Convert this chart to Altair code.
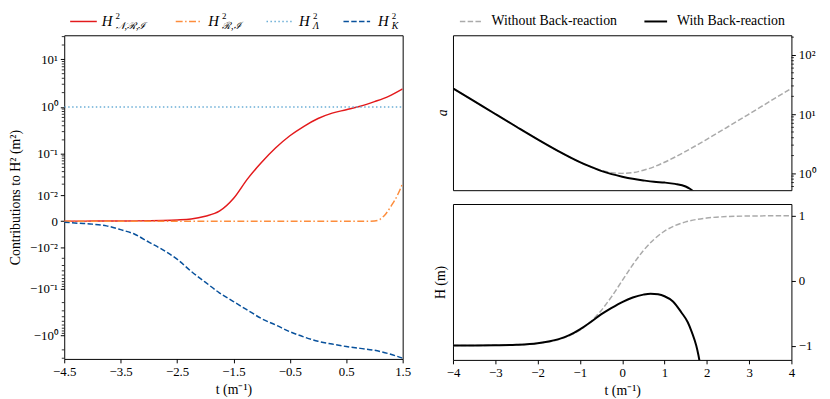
import altair as alt
import pandas as pd

# ---------------- data ----------------
t_left = [-4.5, -4.25, -4.0, -3.75, -3.5, -3.25, -3.0, -2.75, -2.5, -2.25, -2.0, -1.75,
          -1.5, -1.25, -1.0, -0.75, -0.5, -0.25, 0.0, 0.25, 0.5, 0.75, 1.0, 1.25, 1.5]
h2_nri = [2e-5, 2e-5, 3e-5, 4e-5, 5e-5, 7e-5, 1e-4, 1.5e-4, 2.5e-4, 4.5e-4, 1.1e-3, 2.5e-3,
          8e-3, 0.027, 0.065, 0.135, 0.245, 0.39, 0.57, 0.74, 0.87, 1.03, 1.29, 1.67, 2.4]
h2_k = [-0.0002, -0.0004, -0.0006, -0.001, -0.002, -0.0035, -0.007, -0.012, -0.021, -0.041,
        -0.072, -0.123, -0.19, -0.29, -0.44, -0.6, -0.83, -1.07, -1.32, -1.51, -1.7, -1.86,
        -2.04, -2.4, -3.0]
t_ri = [-4.5, -3.5, -2.5, -1.5, -0.5, 0.5, 0.9, 1.0, 1.1, 1.2, 1.3, 1.4, 1.5]
h2_ri = [0, 0, 0, 0, 0, 0, 1e-5, 5e-5, 4e-4, 1.7e-3, 4.5e-3, 9.5e-3, 0.021]
t_lam = [-4.5, 1.5]
h2_lam = [1.0, 1.0]

t_right = [-4, -3.5, -3, -2.5, -2, -1.5, -1.25, -1, -0.75, -0.5, -0.25, 0, 0.25, 0.5, 0.75,
           1, 1.25, 1.5, 2, 2.5, 3, 3.5, 4]
a_without = [27.3, 16.6, 10.07, 6.13, 3.76, 2.35, 1.89, 1.54, 1.29, 1.13, 1.03, 1.0, 1.03,
             1.13, 1.29, 1.54, 1.89, 2.35, 3.76, 6.13, 10.07, 16.6, 27.3]
H_without = [-0.999, -0.998, -0.995, -0.987, -0.964, -0.905, -0.848, -0.762, -0.635, -0.462,
             -0.245, 0.0, 0.245, 0.462, 0.635, 0.762, 0.848, 0.905, 0.964, 0.987, 0.995,
             0.998, 0.999]
t_a_with = [-4, -3.5, -3, -2.5, -2, -1.5, -1, -0.75, -0.5, -0.25, 0, 0.25, 0.5, 0.75, 1.0,
            1.25, 1.5, 1.6, 1.7, 1.8]
a_with = [27.3, 16.6, 10.07, 6.13, 3.76, 2.36, 1.55, 1.3, 1.1, 0.97, 0.88, 0.81, 0.76, 0.72,
          0.7, 0.665, 0.6, 0.55, 0.48, 0.38]
t_H_with = [-4, -3.5, -3, -2.5, -2, -1.5, -1.25, -1, -0.75, -0.5, -0.25, 0, 0.25, 0.5, 0.67,
            0.85, 1.0, 1.2, 1.4, 1.55, 1.65, 1.75, 1.8, 1.85]
H_with = [-1.0, -0.999, -0.995, -0.987, -0.963, -0.9, -0.84, -0.75, -0.64, -0.52, -0.42, -0.33,
          -0.26, -0.215, -0.2, -0.21, -0.24, -0.32, -0.49, -0.64, -0.8, -1.0, -1.14, -1.32]

left_y_ticks = [-1, -0.1, -0.01, 0, 0.01, 0.1, 1, 10]
left_y_labels = ["−10⁰", "−10⁻¹", "−10⁻²", "0", "10⁻²", "10⁻¹", "10⁰", "10¹"]
left_y_minor = [0.02, 0.03, 0.04, 0.05, 0.06, 0.07, 0.08, 0.09,
                0.2, 0.3, 0.4, 0.5, 0.6, 0.7, 0.8, 0.9,
                2, 3, 4, 5, 6, 7, 8, 9, 20, 30,
                -0.02, -0.03, -0.04, -0.05, -0.06, -0.07, -0.08, -0.09,
                -0.2, -0.3, -0.4, -0.5, -0.6, -0.7, -0.8, -0.9, -2, -3]
left_x_ticks = [-4.5, -3.5, -2.5, -1.5, -0.5, 0.5, 1.5]
a_ticks = [1, 10, 100]
a_labels = ["10⁰", "10¹", "10²"]
a_minor = [0.6, 0.7, 0.8, 0.9, 2, 3, 4, 5, 6, 7, 8, 9, 20, 30, 40, 50, 60, 70, 80, 90, 200]
H_ticks = [-1, 0, 1]
right_x_ticks = [-4, -3, -2, -1, 0, 1, 2, 3, 4]

left_subs = ["𝒩,ℛ,ℐ", "ℛ,ℐ", "Λ", "K"]
left_colors = ["#e31a1c", "#fd8d3c", "#6baed6", "#08519c"]
right_names = ["Without Back-reaction", "With Back-reaction"]
right_colors = ["#aaaaaa", "#000000"]

FONT = "Liberation Serif"


def label_expr(vals, labs):
    expr = "''"
    for v, l in zip(vals, labs):
        expr = f"datum.value == {v} ? '{l}' : ({expr})"
    return expr


dummy = pd.DataFrame({"k": [0]})

# ---------------- left panel ----------------
X_left = alt.X("t:Q", scale=alt.Scale(domain=[-4.5, 1.5], nice=False, zero=False),
               axis=alt.Axis(values=left_x_ticks, format=".1f", title="t (m⁻¹)",
                             titlePadding=4))
Y_left = alt.Y("v:Q", scale=alt.Scale(type="symlog", constant=0.004, domain=[-3.1, 32],
                                      nice=False, zero=False),
               axis=alt.Axis(values=left_y_ticks,
                             labelExpr=label_expr(left_y_ticks, left_y_labels),
                             title="Contributions to H² (m²)", titleAngle=270,
                             titleX=-49, titleY=164, titleBaseline="middle",
                             titleAlign="center"))


def left_line(t, v, color, dash):
    df = pd.DataFrame({"t": t, "v": v})
    kw = dict(color=color, strokeWidth=1.5, clip=True, interpolate="monotone")
    if dash:
        kw["strokeDash"] = dash
    return alt.Chart(df).mark_line(**kw).encode(x=X_left, y=Y_left)


left_dashes = [None, [7, 2.5, 1.5, 2.5], [1.5, 2.5], [5.5, 2.4]]
left_layers = [
    alt.Chart(pd.DataFrame({"v": left_y_minor})).mark_rule(color="black", strokeWidth=0.8).encode(
        y=Y_left, x=alt.value(-2.5), x2=alt.value(0)),
    left_line(t_left, h2_nri, left_colors[0], left_dashes[0]),
    left_line(t_ri, h2_ri, left_colors[1], left_dashes[1]),
    left_line(t_lam, h2_lam, left_colors[2], left_dashes[2]),
    left_line(t_left, h2_k, left_colors[3], left_dashes[3]),
]

# custom legend (H with super/subscripts)
leg_y = -14
leg_sym_x = [6, 113, 205, 283]
leg_txt_x = [38, 146, 238, 318]
for i in range(4):
    rk = dict(color=left_colors[i], strokeWidth=1.5)
    if left_dashes[i]:
        rk["strokeDash"] = left_dashes[i]
    left_layers.append(alt.Chart(dummy).mark_rule(**rk).encode(
        x=alt.value(leg_sym_x[i]), x2=alt.value(leg_sym_x[i] + 27), y=alt.value(leg_y)))
    left_layers.append(alt.Chart(dummy).mark_text(
        align="left", baseline="middle", font=FONT, fontSize=15, fontStyle="italic").encode(
        x=alt.value(leg_txt_x[i]), y=alt.value(leg_y), text=alt.value("H")))
    left_layers.append(alt.Chart(dummy).mark_text(
        align="left", baseline="middle", font=FONT, fontSize=9).encode(
        x=alt.value(leg_txt_x[i] + 14), y=alt.value(leg_y - 6), text=alt.value("2")))
    left_layers.append(alt.Chart(dummy).mark_text(
        align="left", baseline="middle", font=FONT, fontSize=10, fontStyle="italic").encode(
        x=alt.value(leg_txt_x[i] + 14), y=alt.value(leg_y + 5), text=alt.value(left_subs[i])))

left = alt.layer(*left_layers).properties(width=343, height=328)

# ---------------- right panels ----------------
X_rtop = alt.X("t:Q", scale=alt.Scale(domain=[-4, 4], nice=False, zero=False), axis=None)
Y_a = alt.Y("v:Q", scale=alt.Scale(type="log", domain=[0.52, 215], nice=False),
            axis=alt.Axis(orient="right", values=a_ticks,
                          labelExpr=label_expr(a_ticks, a_labels),
                          title="a", titleFontStyle="italic", titleAngle=270,
                          titleX=-354, titleY=78, titleBaseline="middle", titleAlign="center"))


def right_line(t, v, x, y, color, dash, width):
    df = pd.DataFrame({"t": t, "v": v})
    kw = dict(color=color, strokeWidth=width, clip=True, interpolate="monotone")
    if dash:
        kw["strokeDash"] = dash
    return alt.Chart(df).mark_line(**kw).encode(x=x, y=y)


rtop_layers = [
    alt.Chart(pd.DataFrame({"v": a_minor})).mark_rule(color="black", strokeWidth=0.8).encode(
        y=Y_a, x=alt.value(343), x2=alt.value(345.5)),
    right_line(t_right, a_without, X_rtop, Y_a, right_colors[0], [5.5, 2.4], 1.5),
    right_line(t_a_with, a_with, X_rtop, Y_a, right_colors[1], None, 2),
]
rleg_y = -14
rleg_sym_x = [7, 194]
rleg_txt_x = [39, 227]
rleg_dash = [[5.5, 2.4], None]
for i in range(2):
    rk = dict(color=right_colors[i], strokeWidth=1.5 if i == 0 else 2)
    if rleg_dash[i]:
        rk["strokeDash"] = rleg_dash[i]
    rtop_layers.append(alt.Chart(dummy).mark_rule(**rk).encode(
        x=alt.value(rleg_sym_x[i]), x2=alt.value(rleg_sym_x[i] + 23), y=alt.value(rleg_y)))
    rtop_layers.append(alt.Chart(dummy).mark_text(
        align="left", baseline="middle", font=FONT, fontSize=14).encode(
        x=alt.value(rleg_txt_x[i]), y=alt.value(rleg_y), text=alt.value(right_names[i])))

rtop = alt.layer(*rtop_layers).properties(width=343, height=157)

X_rbot = alt.X("t:Q", scale=alt.Scale(domain=[-4, 4], nice=False, zero=False),
               axis=alt.Axis(values=right_x_ticks, format="d", title="t (m⁻¹)",
                             titlePadding=4))
Y_H = alt.Y("v:Q", scale=alt.Scale(domain=[-1.22, 1.18], nice=False, zero=False),
            axis=alt.Axis(orient="right", values=H_ticks, format="d",
                          title="H (m)", titleAngle=270, titleX=-356, titleY=79,
                          titleBaseline="middle", titleAlign="center"))
rbot = alt.layer(
    right_line(t_right, H_without, X_rbot, Y_H, right_colors[0], [5.5, 2.4], 1.5),
    right_line(t_H_with, H_with, X_rbot, Y_H, right_colors[1], None, 2),
).properties(width=343, height=158)

right = alt.vconcat(rtop, rbot, spacing=14, bounds="flush")

chart = alt.hconcat(left, right, spacing=51, bounds="flush").properties(
    padding={"left": 0, "top": 0, "right": 5, "bottom": 0},
    background="white"
).configure_view(stroke="black", strokeWidth=1).configure_axis(
    labelFont=FONT, labelFontSize=13, labelColor="black", titleFont=FONT,
    titleFontSize=14, titleColor="black", titleFontWeight="normal", tickColor="black",
    tickSize=4, grid=False, domain=False, labelPadding=3, labelFlush=False
)

chart.save("out.html", embed_options={"renderer": "svg", "actions": False})
